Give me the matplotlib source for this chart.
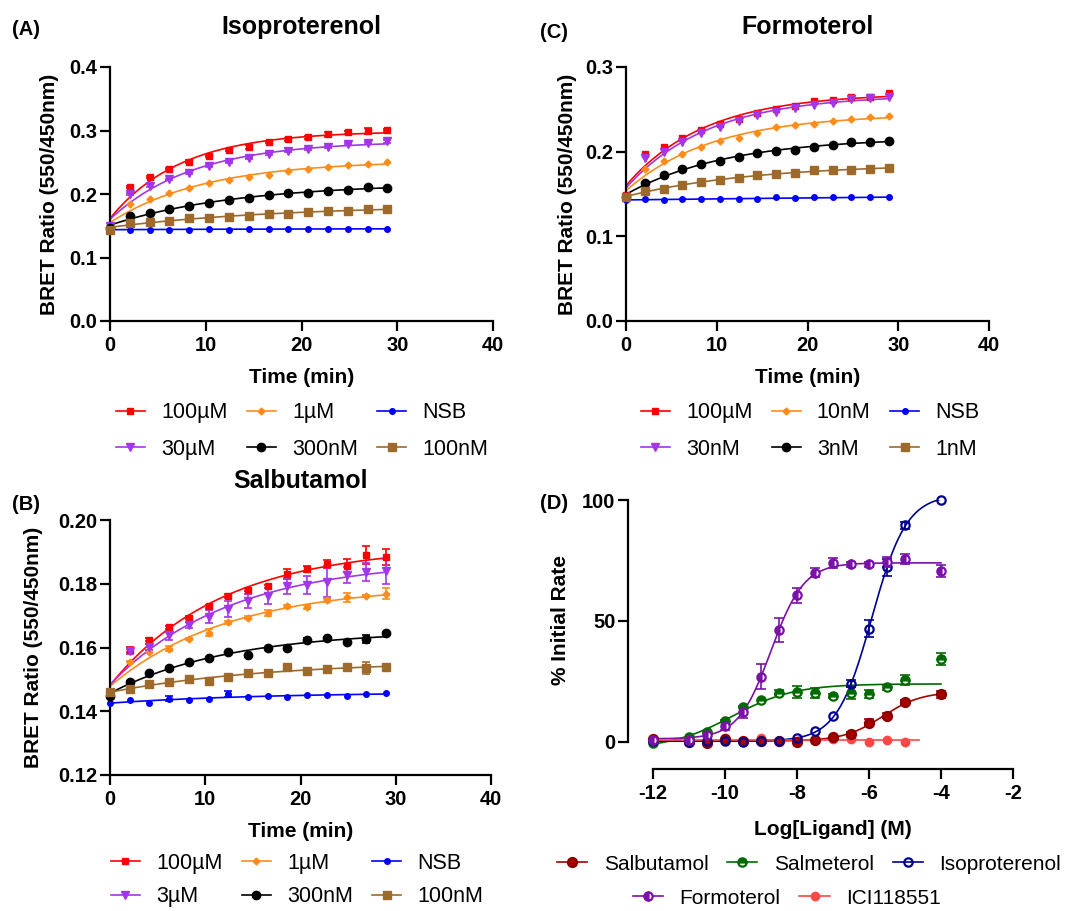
import numpy as np
import matplotlib
matplotlib.use('Agg')
import matplotlib.pyplot as plt
from matplotlib.lines import Line2D

plt.rcParams['font.family'] = ['Liberation Sans', 'DejaVu Sans']
plt.rcParams['font.weight'] = 'bold'
plt.rcParams['axes.unicode_minus'] = False

# ---- data: BRET time courses (min) ----
times = [0, 2.07, 4.14, 6.21, 8.28, 10.35, 12.42, 14.49, 16.56, 18.63, 20.7, 22.77, 24.84, 26.91, 28.98]

# (A) Isoproterenol
iso_labels = ['100µM', '1µM', 'NSB', '30µM', '300nM', '100nM']
iso_100uM = [0.149, 0.211, 0.227, 0.240, 0.251, 0.260, 0.269, 0.274, 0.282, 0.286, 0.289, 0.294, 0.297, 0.299, 0.301]
iso_1uM = [0.146, 0.184, 0.192, 0.201, 0.209, 0.217, 0.222, 0.226, 0.230, 0.237, 0.240, 0.242, 0.246, 0.248, 0.250]
iso_NSB = [0.144, 0.144, 0.144, 0.144, 0.144, 0.145, 0.144, 0.145, 0.145, 0.145, 0.145, 0.145, 0.145, 0.145, 0.145]
iso_30uM = [0.149, 0.200, 0.213, 0.223, 0.233, 0.244, 0.250, 0.256, 0.263, 0.267, 0.271, 0.274, 0.279, 0.280, 0.283]
iso_300nM = [0.146, 0.166, 0.170, 0.177, 0.181, 0.186, 0.190, 0.194, 0.198, 0.201, 0.202, 0.205, 0.206, 0.211, 0.210]
iso_100nM = [0.144, 0.155, 0.156, 0.158, 0.162, 0.162, 0.164, 0.166, 0.168, 0.169, 0.171, 0.174, 0.174, 0.176, 0.176]
iso_100uM_err = [0, 0.002, 0.002, 0.001, 0.002, 0.002, 0.002, 0.003, 0.002, 0.002, 0.002, 0.004, 0.003, 0.005, 0.002]
iso_30uM_err = [0, 0.002, 0.002, 0.001, 0.001, 0.001, 0.001, 0.001, 0.001, 0.001, 0.001, 0.001, 0.002, 0.002, 0.002]

# (B) Salbutamol
sal_labels = ['100µM', '1µM', 'NSB', '3µM', '300nM', '100nM']
sal_100uM = [0.1448, 0.1593, 0.1624, 0.1663, 0.1694, 0.1729, 0.1762, 0.1781, 0.1792, 0.1830, 0.1846, 0.1862, 0.1857, 0.1890, 0.1884]
sal_1uM = [0.1453, 0.1556, 0.1587, 0.1596, 0.1626, 0.1647, 0.1679, 0.1694, 0.1708, 0.1729, 0.1726, 0.1748, 0.1757, 0.1762, 0.1769]
sal_NSB = [0.1425, 0.1434, 0.1427, 0.1440, 0.1434, 0.1438, 0.1454, 0.1446, 0.1448, 0.1446, 0.1451, 0.1451, 0.1448, 0.1453, 0.1457]
sal_3uM = [0.1448, 0.1588, 0.1601, 0.1639, 0.1671, 0.1697, 0.1720, 0.1745, 0.1763, 0.1792, 0.1795, 0.1807, 0.1828, 0.1836, 0.1839]
sal_300nM = [0.1448, 0.1491, 0.1521, 0.1535, 0.1555, 0.1566, 0.1585, 0.1577, 0.1598, 0.1597, 0.1624, 0.1629, 0.1617, 0.1627, 0.1647]
sal_100nM = [0.1459, 0.1469, 0.1486, 0.1491, 0.1501, 0.1495, 0.1509, 0.1519, 0.1521, 0.1538, 0.1526, 0.1532, 0.1538, 0.1535, 0.1540]
sal_100uM_err = [0.0005, 0.0008, 0.0005, 0.0005, 0.0005, 0.0005, 0.0006, 0.0005, 0.0005, 0.0015, 0.001, 0.0012, 0.002, 0.0028, 0.0025]
sal_1uM_err = [0, 0.0003, 0.0005, 0.0008, 0.0004, 0.0012, 0.0004, 0.0006, 0.001, 0.0004, 0.0006, 0.0004, 0.0015, 0.0004, 0.0018]
sal_NSB_err = [0, 0, 0, 0.0008, 0, 0, 0.0008, 0, 0, 0, 0, 0, 0, 0, 0]
sal_3uM_err = [0, 0.0008, 0.001, 0.0015, 0.001, 0.002, 0.0025, 0.0022, 0.0025, 0.0025, 0.0028, 0.005, 0.0025, 0.0028, 0.004]
sal_300nM_err = [0, 0.0005, 0, 0, 0, 0, 0, 0, 0, 0, 0.0005, 0, 0, 0.0012, 0]
sal_100nM_err = [0, 0, 0, 0.0008, 0, 0.0008, 0, 0, 0.0006, 0, 0, 0, 0, 0.0018, 0]

# (C) Formoterol
for_labels = ['100µM', '10nM', 'NSB', '30nM', '3nM', '1nM']
for_100uM = [0.149, 0.197, 0.206, 0.216, 0.225, 0.233, 0.239, 0.246, 0.250, 0.254, 0.260, 0.261, 0.265, 0.265, 0.269]
for_10nM = [0.147, 0.180, 0.189, 0.197, 0.206, 0.213, 0.216, 0.222, 0.229, 0.231, 0.233, 0.236, 0.238, 0.241, 0.242]
for_NSB = [0.143, 0.144, 0.143, 0.144, 0.144, 0.144, 0.144, 0.144, 0.146, 0.145, 0.146, 0.146, 0.146, 0.146, 0.146]
for_30nM = [0.147, 0.193, 0.200, 0.212, 0.222, 0.229, 0.236, 0.243, 0.247, 0.252, 0.255, 0.258, 0.262, 0.263, 0.265]
for_3nM = [0.147, 0.163, 0.173, 0.179, 0.185, 0.189, 0.194, 0.198, 0.201, 0.202, 0.206, 0.208, 0.211, 0.212, 0.213]
for_1nM = [0.147, 0.153, 0.156, 0.161, 0.164, 0.167, 0.169, 0.172, 0.174, 0.175, 0.178, 0.178, 0.178, 0.180, 0.181]

# (D) concentration response
log_conc = [-12, -11, -10.5, -10, -9.5, -9, -8.5, -8, -7.5, -7, -6.5, -6, -5.5, -5, -4]
salbutamol = [1.2, 0.0, -0.3, 1.1, 0.4, 0.4, 0.4, 0.0, 0.8, 1.9, 3.2, 8.0, 10.9, 16.3, 19.7]
salmeterol = [-0.3, 2.2, 4.3, 8.7, 14.3, 17.4, 20.4, 20.5, 20.1, 19.0, 20.4, 19.8, 22.6, 25.6, 34.2]
isoproterenol = [0.5, 0.0, 0.3, 0.5, 0.0, 0.3, 0.5, 1.5, 4.5, 10.7, 24.0, 46.7, 72.2, 89.5, 100.0]
formoterol = [0.8, 0.8, 3.0, 6.6, 12.5, 27.0, 46.3, 60.6, 70.0, 74.0, 73.4, 73.4, 74.5, 75.6, 70.7]
salbutamol_err = [0, 0, 0, 0, 0, 0, 0, 0, 0, 0, 1.0, 1.5, 1.2, 1.0, 1.5]
salmeterol_err = [0, 0, 0, 0.5, 0, 0, 1.0, 2.5, 2.0, 1.0, 2.5, 1.5, 1.0, 2.0, 2.5]
isoproterenol_err = [0, 0, 0, 0, 0, 0, 0, 0, 0, 0, 1.5, 3.5, 3.5, 1.5, 0]
formoterol_err = [0, 0, 0, 1.5, 2.5, 5.0, 5.0, 3.0, 2.0, 2.0, 1.0, 1.0, 2.0, 2.0, 2.5]
ici_conc = [-12, -11, -10, -9, -8, -7, -6.5, -6, -5.5, -5]
ici118551 = [0.5, 0.5, 1.5, 1.5, 0.5, 1.0, 1.1, 0.0, 0.8, 0.0]
ici_fit_end = -4.6


def fit_assoc(t, y):
    # one phase association, grid over k + linear least squares
    t = np.asarray(t, float)
    y = np.asarray(y, float)
    best = None
    for k in np.linspace(0.01, 1.5, 300):
        A = np.column_stack([np.exp(-k * t), 1 - np.exp(-k * t)])
        coef = np.linalg.lstsq(A, y, rcond=None)[0]
        err = np.sum((A @ coef - y) ** 2)
        if best is None or err < best[0]:
            best = (err, k, coef)
    return best[1], best[2]


def fit_4pl(x, y):
    x = np.asarray(x, float)
    y = np.asarray(y, float)
    best = None
    for ec in np.arange(-11.5, -3.5, 0.02):
        for h in np.arange(0.5, 2.5, 0.05):
            s = 1 / (1 + 10 ** ((ec - x) * h))
            A = np.column_stack([1 - s, s])
            coef = np.linalg.lstsq(A, y, rcond=None)[0]
            err = np.sum((A @ coef - y) ** 2)
            if best is None or err < best[0]:
                best = (err, ec, h, coef)
    return best[1:]


fig = plt.figure(figsize=(10.7, 9.11), dpi=100)


def px_axes(l, t, r, b):
    return fig.add_axes([l / 1070, 1 - b / 911, (r - l) / 1070, (b - t) / 911])


def style(ax):
    for s in ['top', 'right']:
        ax.spines[s].set_visible(False)
    for s in ['left', 'bottom']:
        ax.spines[s].set_linewidth(1.6)
    ax.tick_params(width=1.6, length=7, labelsize=14.5)
    ax.tick_params(axis='x', pad=4)
    ax.tick_params(axis='y', pad=2)


t_colors = ['#FF0000', '#FF8C1A', '#0000FF', '#A236E8', '#000000', '#9E6A2C']
t_markers = ['s', 'D', 'o', 'v', 'o', 's']
t_sizes = [5, 3.5, 4, 5.5, 6, 6]
leg_prop = {'size': 15.5, 'weight': 'normal'}


def time_panel(ax, series, errs, labels, title, yticks, ylabfmt, ylab_x, leg_xy, tpad=24, lspace=0.7):
    style(ax)
    t = np.asarray(times)
    handles = []
    for vals, e, col, mk, ms, lab in zip(series, errs, t_colors, t_markers, t_sizes, labels):
        k, coef = fit_assoc(t, vals)
        tt = np.linspace(0, t.max(), 200)
        ax.plot(tt, coef[0] * np.exp(-k * tt) + coef[1] * (1 - np.exp(-k * tt)), color=col, lw=1.2)
        e = np.asarray(e)
        m = e > 0
        if m.any():
            ax.errorbar(t[m], np.asarray(vals)[m], yerr=e[m], fmt='none', ecolor=col,
                        elinewidth=1.2, capsize=3, capthick=1.2, clip_on=False)
        ax.plot(t, vals, ls='none', marker=mk, ms=ms, color=col, clip_on=False, zorder=3)
        handles.append(Line2D([], [], color=col, marker=mk, ms=ms, lw=1.2))
    ax.set_xlim(0, 40)
    ax.set_xticks([0, 10, 20, 30, 40])
    ax.set_ylim(yticks[0], yticks[-1])
    ax.set_yticks(yticks)
    ax.set_yticklabels([ylabfmt % v for v in yticks])
    ax.set_xlabel('Time (min)', fontsize=15, fontweight='bold')
    ax.xaxis.set_label_coords(0.5, -0.185)
    ax.set_ylabel('BRET Ratio (550/450nm)', fontsize=15, fontweight='bold')
    ax.yaxis.set_label_coords(ylab_x, 0.5)
    ax.set_title(title, fontsize=18, fontweight='bold', pad=tpad)
    order = [0, 3, 1, 4, 2, 5]
    fig.legend([handles[i] for i in order], [labels[i] for i in order], ncol=3,
               loc='center', bbox_to_anchor=(leg_xy[0] / 1070, 1 - leg_xy[1] / 911),
               frameon=False, prop=leg_prop, borderpad=0.2,
               handlelength=1.35, handletextpad=0.75, columnspacing=0.9, labelspacing=lspace)


axA = px_axes(110, 67, 493, 321)
time_panel(axA, [iso_100uM, iso_1uM, iso_NSB, iso_30uM, iso_300nM, iso_100nM],
           [iso_100uM_err, [0] * 15, [0] * 15, iso_30uM_err, [0] * 15, [0] * 15],
           iso_labels, 'Isoproterenol', [0.0, 0.1, 0.2, 0.3, 0.4], '%.1f', -0.133, (302, 431))

axC = px_axes(626, 67, 989, 321)
time_panel(axC, [for_100uM, for_10nM, for_NSB, for_30nM, for_3nM, for_1nM],
           [[0] * 15] * 6, for_labels, 'Formoterol', [0.0, 0.1, 0.2, 0.3], '%.1f', -0.135, (810, 431))

axB = px_axes(110, 520, 491, 775)
time_panel(axB, [sal_100uM, sal_1uM, sal_NSB, sal_3uM, sal_300nM, sal_100nM],
           [sal_100uM_err, sal_1uM_err, sal_NSB_err, sal_3uM_err, sal_300nM_err, sal_100nM_err],
           sal_labels, 'Salbutamol', [0.12, 0.14, 0.16, 0.18, 0.20], '%.2f', -0.176, (297, 880),
           tpad=23, lspace=0.6)

# (D)
axD = px_axes(628, 500, 1013, 769)
style(axD)
x = np.asarray(log_conc, float)
d_series = [
    ('Salbutamol', salbutamol, salbutamol_err, '#A80000', 'full', 6.5, '#8A0000'),
    ('Salmeterol', salmeterol, salmeterol_err, '#006A00', 'top', 6, '#006A00'),
    ('Isoproterenol', isoproterenol, isoproterenol_err, '#000090', 'none', 6, '#000090'),
    ('Formoterol', formoterol, formoterol_err, '#7A12A8', 'left', 6, '#7A12A8'),
]
d_handles = {}
xx = np.linspace(-12, -4, 300)
for name, vals, e, col, fs, ms, ec in d_series:
    ecv, h, coef = fit_4pl(x, vals)
    s = 1 / (1 + 10 ** ((ecv - xx) * h))
    axD.plot(xx, coef[0] * (1 - s) + coef[1] * s, color=col, lw=1.2)
    e = np.asarray(e)
    m = e > 0
    axD.errorbar(x[m], np.asarray(vals)[m], yerr=e[m], fmt='none', ecolor=col,
                 elinewidth=1.2, capsize=3.5, capthick=1.2, clip_on=False)
    axD.plot(x, vals, ls='none', marker='o', ms=ms, color=col, mec=ec, mew=1.6,
             fillstyle=fs, markerfacecoloralt='white', clip_on=False, zorder=3)
    d_handles[name] = Line2D([], [], color=col, marker='o', ms=ms, mec=ec, mew=1.6,
                             fillstyle=fs, markerfacecoloralt='white', lw=1.2)

ici_col = '#FF4747'
xi = np.linspace(-12, ici_fit_end, 50)
axD.plot(xi, np.full_like(xi, np.mean(ici118551)), color=ici_col, lw=1.2)
axD.plot(ici_conc, ici118551, ls='none', marker='o', ms=6, color=ici_col, mec=ici_col, clip_on=False, zorder=2.5)
d_handles['ICI118551'] = Line2D([], [], color=ici_col, marker='o', ms=6, lw=1.2)

axD.set_xlim(-12.69, -2)
axD.set_ylim(-11.2, 100)
axD.spines['left'].set_bounds(0, 100)
axD.spines['bottom'].set_bounds(-12, -2)
axD.set_xticks([-12, -10, -8, -6, -4, -2])
axD.set_yticks([0, 50, 100])
axD.set_xlabel('Log[Ligand] (M)', fontsize=15, fontweight='bold')
axD.xaxis.set_label_coords((833 - 628) / 385, -0.19)
axD.set_ylabel('% Initial Rate', fontsize=15, fontweight='bold')
axD.yaxis.set_label_coords(-0.151, 0.554)

leg_kw = dict(loc='center', frameon=False, prop={'size': 15, 'weight': 'normal'},
              handlelength=1.45, handletextpad=0.8, columnspacing=0.9, borderpad=0.2)
names1 = ['Salbutamol', 'Salmeterol', 'Isoproterenol']
names2 = ['Formoterol', 'ICI118551']
fig.legend([d_handles[n] for n in names1], names1, ncol=3,
           bbox_to_anchor=(809 / 1070, 1 - 864 / 911), **leg_kw)
fig.legend([d_handles[n] for n in names2], names2, ncol=2,
           bbox_to_anchor=(787 / 1070, 1 - 898 / 911), **leg_kw)

# panel letters
for lab, px, py in [('(A)', 12, 35), ('(C)', 540, 38), ('(B)', 12, 510), ('(D)', 540, 509)]:
    fig.text(px / 1070, 1 - py / 911, lab, fontsize=14.5, fontweight='bold', va='baseline')

fig.savefig('out.png', dpi=100)
